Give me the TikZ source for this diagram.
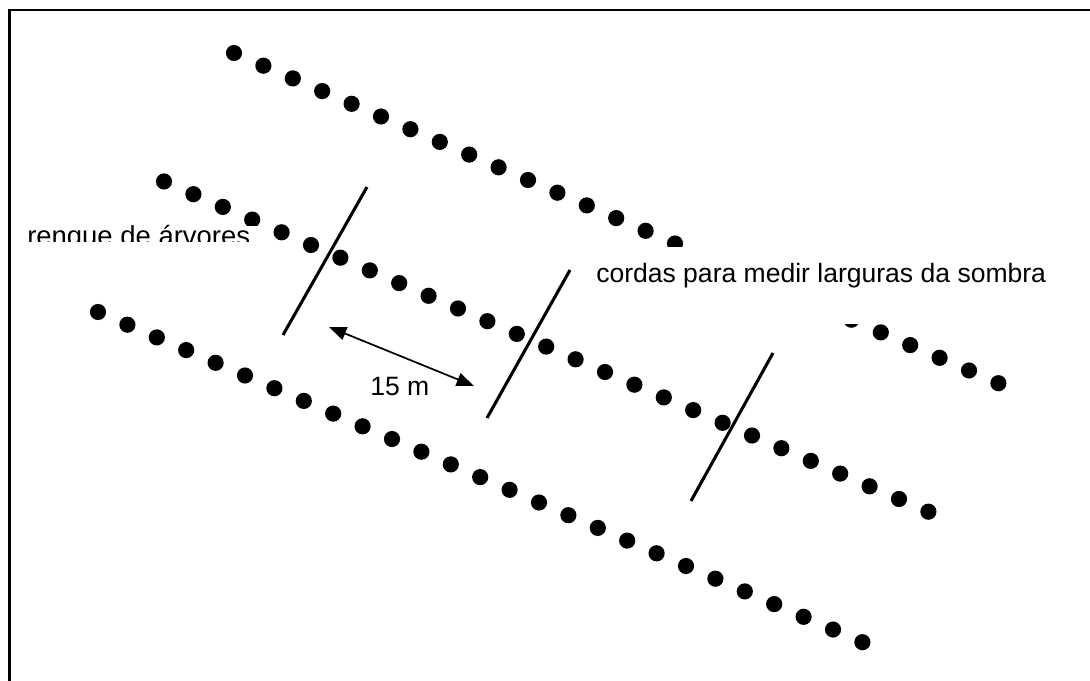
\documentclass[tikz,border=0pt]{standalone}
\usepackage{fontspec}
\setmainfont{Liberation Sans}
\usetikzlibrary{arrows.meta}
\begin{document}
\begin{tikzpicture}[x=0.75pt,y=-0.75pt,
  tree/.style={fill=black},
  chord/.style={line width=2.3pt},
  dim/.style={line width=1.3pt,{Triangle[length=13pt,width=10pt]}-{Triangle[length=13pt,width=10pt]}},
  lbl/.style={inner sep=0pt,anchor=base west,font=\fontsize{19.9}{24}\selectfont}]
\useasboundingbox (0,0) rectangle (1090,681);
\fill[white] (0,0) rectangle (1090,681);
% frame
\draw[line width=2pt] (9.3,681) -- (9.3,10) -- (1090,10);
% rows of trees
\foreach \i in {0,...,26}{
  \fill[tree] (234+29.4*\i,53+12.7*\i) circle[radius=8.1];
  \fill[tree] (164+29.4*\i,181.5+12.7*\i) circle[radius=8.1];
  \fill[tree] (98+29.4*\i,312+12.7*\i) circle[radius=8.1];
}
% white text boxes covering trees
\fill[white] (585,247.5) rectangle (1062,324.5);
\fill[white] (20,226.5) rectangle (266,242);
% chords
\coordinate (c1a) at (367,187); \coordinate (c1b) at (283,335);
\coordinate (c2a) at (570,270); \coordinate (c2b) at (487,418);
\coordinate (c3a) at (773,353); \coordinate (c3b) at (691,501);
\draw[chord] (c1a) -- (c1b);
\draw[chord] (c2a) -- (c2b);
\draw[chord] (c3a) -- (c3b);
% dimension arrow
\coordinate (d1) at (329,327); \coordinate (d2) at (474,386);
\draw[dim] (d1) -- (d2);
% labels
\node[lbl] (t15) at (370,395) {15 m};
\node[lbl] (tcordas) at (596,282) {cordas para medir larguras da sombra};
\begin{scope}
\clip (20,215) rectangle (266,242);
\node[lbl,font=\fontsize{20.6}{24}\selectfont] (trenque) at (27,246) {renque de árvores};
\end{scope}
\end{tikzpicture}
\end{document}
